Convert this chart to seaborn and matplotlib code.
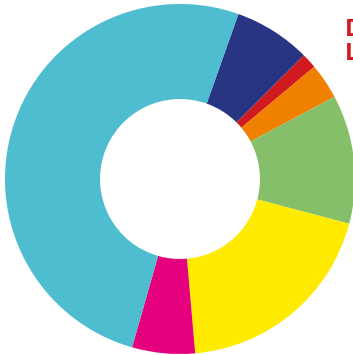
import matplotlib
matplotlib.use("Agg")
import matplotlib.pyplot as plt
import seaborn as sns

sns.set_theme(style="white")
plt.rcParams['font.family'] = ['Open Sans', 'DejaVu Sans']

categories = ["Navy", "Red", "Orange", "Green", "Yellow", "Magenta", "Cyan"]
values = [7.1, 1.4, 3.3, 11.9, 19.5, 5.8, 51.0]
colors = ["#283583", "#d11a1f", "#f08100", "#86bf6a", "#ffeb00", "#e5007e", "#4dbdcf"]
legend_labels = ["D", "L"]

palette = sns.color_palette(colors)

fig = plt.figure(figsize=(3.53, 3.55), dpi=100)
ax = fig.add_axes([0, 0, 1, 1])
ax.pie(values, colors=palette, startangle=70.5, counterclock=False,
       radius=1.0, wedgeprops=dict(width=0.543, linewidth=0))
ax.set_xlim(-180/175, 173/175)
ax.set_ylim(-176/175, 179/175)
ax.set_aspect('auto')
ax.axis('off')

fig.text(344.5/353, 1 - 29.5/355, legend_labels[0], color="#d11a1f", fontsize=17,
         fontweight='bold', va='center', ha='left')
fig.text(344.5/353, 1 - 54.5/355, legend_labels[1], color="#d11a1f", fontsize=17,
         fontweight='bold', va='center', ha='left')

fig.savefig("out.png", dpi=100, facecolor="white")
